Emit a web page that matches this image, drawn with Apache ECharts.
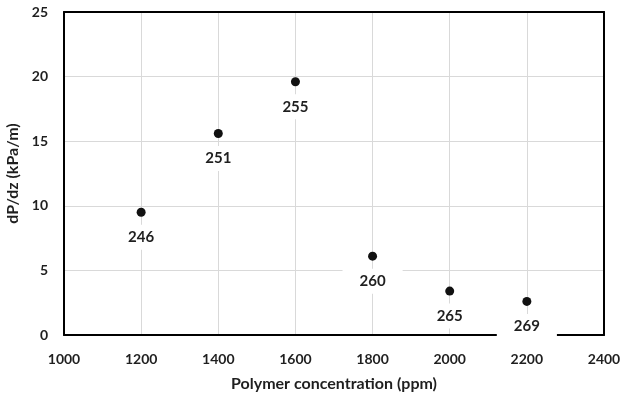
<!DOCTYPE html>
<html>
<head>
<meta charset="utf-8">
<script src="https://cdn.jsdelivr.net/npm/echarts@6/dist/echarts.min.js"></script>
<style>
  html, body { margin: 0; padding: 0; background: #fff; }
  #chart { width: 624px; height: 395px; }
</style>
</head>
<body>
<div id="chart"></div>
<script>
// data
var concentration = [1200, 1400, 1600, 1800, 2000, 2200];
var dpdz = [9.5, 15.6, 19.6, 6.1, 3.4, 2.6];
var pointLabels = ['246', '251', '255', '260', '265', '269'];

var font = 'Lato, "Open Sans", sans-serif';
var txt = '#1f1f1f';
var chart = echarts.init(document.getElementById('chart'));

var pts = concentration.map(function (x, i) {
    return { value: [x, dpdz[i]], name: pointLabels[i] };
});

var tickText = { fontFamily: font, fontWeight: 'bold', fontSize: 14, color: txt };
var nameText = { fontFamily: font, fontWeight: 'bold', fontSize: 16, color: txt };
var frame = { show: true, onZero: false, lineStyle: { color: '#000', width: 2 } };

var option = {
    backgroundColor: '#fff',
    animation: false,
    grid: { left: 64, right: 20, top: 12, bottom: 60, outerBoundsMode: 'none' },
    xAxis: [{
        type: 'value',
        min: 1000, max: 2400, interval: 200,
        name: 'Polymer concentration (ppm)',
        nameLocation: 'middle',
        nameGap: 41,
        nameTextStyle: nameText,
        axisLine: frame,
        axisTick: { show: false },
        axisLabel: Object.assign({ margin: 17, formatter: function (v) { return String(v); } }, tickText),
        splitLine: { lineStyle: { color: '#d9d9d9', width: 1 } }
    }, {
        type: 'value', position: 'top',
        min: 1000, max: 2400, interval: 200,
        axisLine: frame, axisTick: { show: false },
        axisLabel: { show: false }, splitLine: { show: false }
    }],
    yAxis: [{
        type: 'value',
        min: 0, max: 25, interval: 5,
        name: 'dP/dz (kPa/m)',
        nameLocation: 'middle',
        nameGap: 39,
        nameTextStyle: nameText,
        axisLine: frame,
        axisTick: { show: false },
        axisLabel: Object.assign({ margin: 16 }, tickText),
        splitLine: { lineStyle: { color: '#d9d9d9', width: 1 } }
    }, {
        type: 'value', position: 'right',
        min: 0, max: 25, interval: 5,
        axisLine: frame, axisTick: { show: false },
        axisLabel: { show: false }, splitLine: { show: false }
    }],
    series: [{
        type: 'scatter',
        symbolSize: 9,
        itemStyle: { color: '#111', opacity: 1 },
        data: pts,
        label: {
            show: true,
            position: 'bottom',
            distance: 8,
            formatter: '{b}',
            fontFamily: font,
            fontWeight: 'bold',
            fontSize: 15,
            color: txt,
            backgroundColor: '#fff',
            padding: [5, 17]
        }
    }]
};

chart.setOption(option);
</script>
</body>
</html>
